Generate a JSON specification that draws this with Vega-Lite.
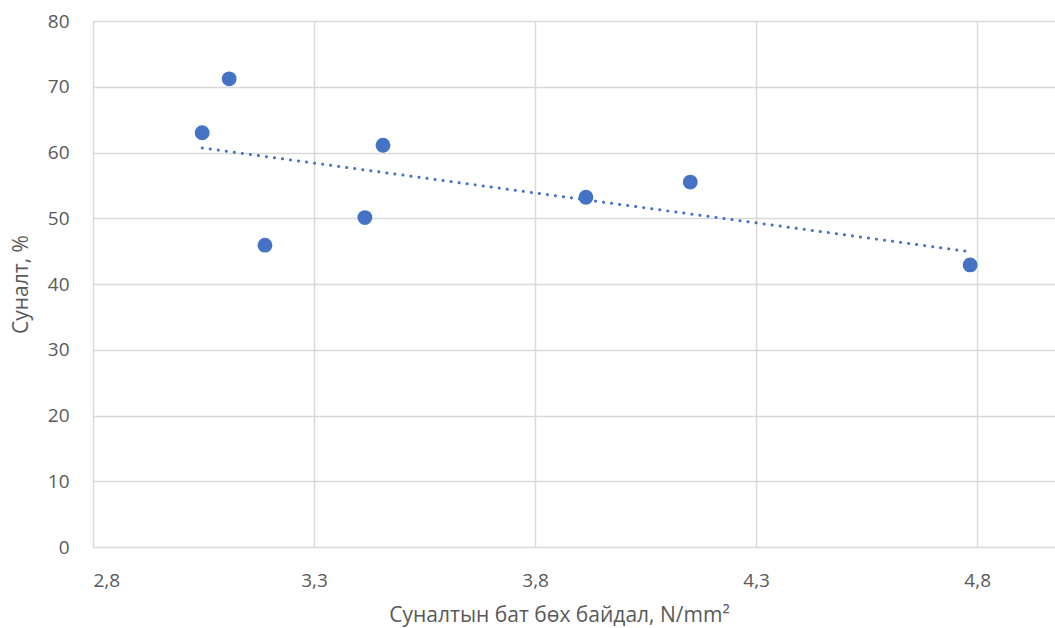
{
  "$schema": "https://vega.github.io/schema/vega-lite/v6.json",
  "width": 962,
  "height": 526,
  "autosize": {"type": "none"},
  "padding": {"left": 93, "top": 21, "right": 0, "bottom": 81},
  "background": "white",
  "config": {
    "view": {"stroke": null},
    "font": "Open Sans",
    "axis": {
      "grid": true,
      "gridColor": "#d9d9d9",
      "gridWidth": 1.5,
      "domain": false,
      "ticks": false,
      "labelFont": "Open Sans",
      "labelFontSize": 19,
      "labelColor": "#595959",
      "titleFont": "Open Sans",
      "titleFontSize": 21,
      "titleFontWeight": "normal",
      "titleColor": "#595959"
    }
  },
  "data": {
    "values": [
      {"x": 3.047, "y": 63.0},
      {"x": 3.108, "y": 71.2},
      {"x": 3.189, "y": 45.9},
      {"x": 3.415, "y": 50.1},
      {"x": 3.456, "y": 61.1},
      {"x": 3.915, "y": 53.2},
      {"x": 4.151, "y": 55.5},
      {"x": 4.784, "y": 42.9}
    ]
  },
  "layer": [
    {
      "transform": [{"regression": "y", "on": "x"}],
      "mark": {"type": "line", "color": "#4472C4", "strokeWidth": 3, "strokeDash": [0.1, 8], "strokeCap": "round"},
      "encoding": {
        "x": {"field": "x", "type": "quantitative"},
        "y": {"field": "y", "type": "quantitative"}
      }
    },
    {
      "mark": {"type": "point", "filled": true, "opacity": 1, "color": "#4472C4", "size": 220},
      "encoding": {
        "x": {
          "field": "x",
          "type": "quantitative",
          "scale": {"domain": [2.8, 4.976], "nice": false, "zero": false},
          "axis": {
            "values": [2.8, 3.3, 3.8, 4.3, 4.8],
            "labelExpr": "replace(format(datum.value, '.1f'), '.', ',')",
            "labelPadding": 24,
            "title": "Суналтын бат бөх байдал, N/mm²",
            "titlePadding": 14,
            "titleX": 466,
            "titleAnchor": "middle"
          }
        },
        "y": {
          "field": "y",
          "type": "quantitative",
          "scale": {"domain": [0, 80], "nice": false},
          "axis": {
            "values": [0, 10, 20, 30, 40, 50, 60, 70, 80],
            "labelPadding": 24,
            "title": "Суналт, %",
            "titlePadding": 16
          }
        }
      }
    }
  ]
}
